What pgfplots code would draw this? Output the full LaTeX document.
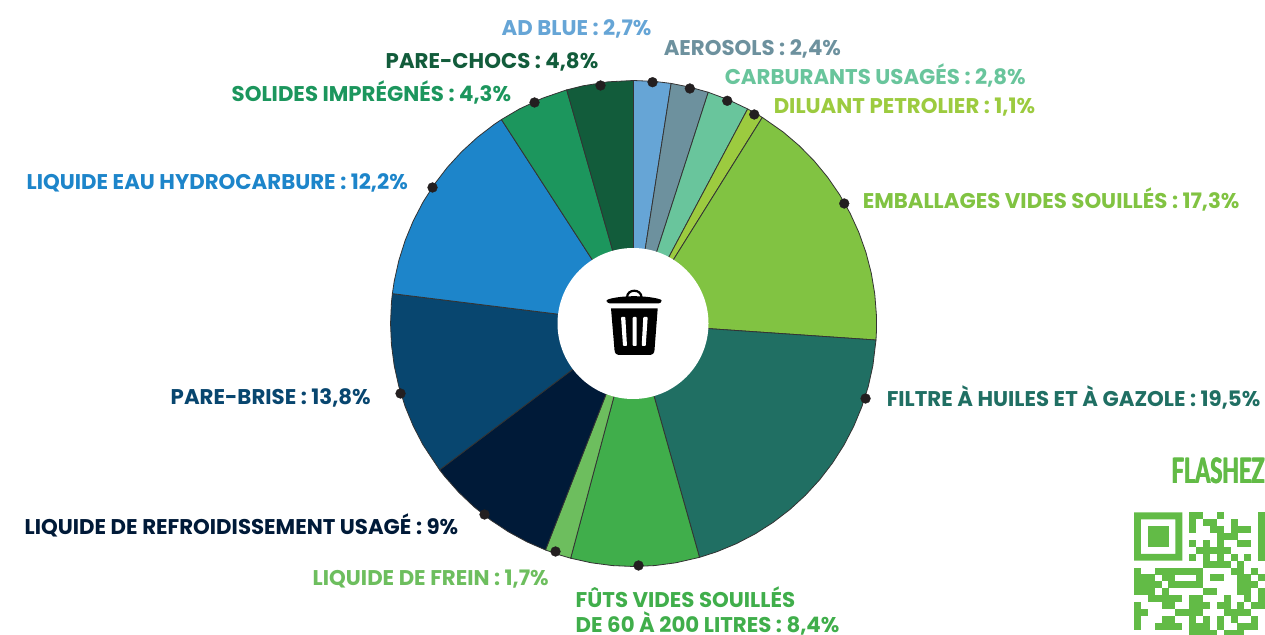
\documentclass[border=0pt]{standalone}
\usepackage{pgfplots}
\pgfplotsset{compat=1.18}
\usepackage{fontspec}
\setmainfont{Poppins}[BoldFont=* Bold]
\newfontfamily\flash{Lato}[BoldFont=* Bold]
\definecolor{cadblue}{HTML}{66A5D6}
\definecolor{caero}{HTML}{6D919E}
\definecolor{ccarb}{HTML}{69C59C}
\definecolor{cdil}{HTML}{9CCB3F}
\definecolor{cemb}{HTML}{81C342}
\definecolor{cfil}{HTML}{206F63}
\definecolor{cfut}{HTML}{40AE4B}
\definecolor{cfre}{HTML}{6DBE5E}
\definecolor{cref}{HTML}{001A38}
\definecolor{cpar}{HTML}{08466F}
\definecolor{ceau}{HTML}{1D85CA}
\definecolor{csol}{HTML}{1C965D}
\definecolor{ccho}{HTML}{125C3B}
\definecolor{cqr}{HTML}{62BB46}
\definecolor{cdot}{HTML}{231F20}
\newcommand{\lab}[4]{\node[anchor=base west,inner sep=0pt,xshift=-1pt,yshift=-0.7pt,text=#3,font=\fontsize{21.3}{25}\selectfont\bfseries] at (axis cs:#1,#2) {#4};}
\begin{document}
\begin{tikzpicture}[x=1pt,y=1pt]
\path[use as bounding box,clip] (0,0) rectangle (1265,634);
\begin{axis}[
  at={(0,0)},anchor=south west,
  scale only axis,width=1265pt,height=634pt,
  xmin=-633.5,xmax=631.5,ymin=-310.5,ymax=323.5,
  hide axis,clip=false,
  wedge/.style={data cs=polar,draw=black!80,line width=0.8pt,line join=round},
]
\addplot[wedge,fill=cadblue] coordinates {(0,0)(90,243)(85,243)(81.1,243)} --cycle;
\addplot[wedge,fill=caero] coordinates {(0,0)(81.1,243)(76.6,243)(72.1,243)} --cycle;
\addplot[wedge,fill=ccarb] coordinates {(0,0)(72.1,243)(67,243)(62,243)} --cycle;
\addplot[wedge,fill=cdil] coordinates {(0,0)(62,243)(60,243)(58,243)} --cycle;
\addplot[wedge,fill=cemb] coordinates {(0,0)(58,243)(52,243)(47,243)(42,243)(37,243)(32,243)(27,243)(22,243)(17,243)(12,243)(7,243)(2,243)(-2,243)(-3.9,243)} --cycle;
\addplot[wedge,fill=cfil] coordinates {(0,0)(-3.9,243)(-10,243)(-15,243)(-20,243)(-25,243)(-30,243)(-35,243)(-40,243)(-45,243)(-50,243)(-55,243)(-60,243)(-65,243)(-70,243)(-74.25,243)} --cycle;
\addplot[wedge,fill=cfut] coordinates {(0,0)(-74.25,243)(-80,243)(-85,243)(-90,243)(-95,243)(-100,243)(-105,243)} --cycle;
\addplot[wedge,fill=cfre] coordinates {(0,0)(-105,243)(-108,243)(-111.25,243)} --cycle;
\addplot[wedge,fill=cref] coordinates {(0,0)(-111.25,243)(-116,243)(-121,243)(-126,243)(-131,243)(-136,243)(-141,243)(-142.96,243)} --cycle;
\addplot[wedge,fill=cpar] coordinates {(0,0)(-142.96,243)(-150,243)(-155,243)(-160,243)(-165,243)(-170,243)(-175,243)(-180,243)(-185,243)(-187.06,243)} --cycle;
\addplot[wedge,fill=ceau] coordinates {(0,0)(-187.06,243)(-190,243)(-195,243)(-200,243)(-205,243)(-210,243)(-215,243)(-220,243)(-225,243)(-230,243)(-235,243)(-237.07,243)} --cycle;
\addplot[wedge,fill=csol] coordinates {(0,0)(-237.07,243)(-242,243)(-248,243)(-254.04,243)} --cycle;
\addplot[wedge,fill=ccho] coordinates {(0,0)(-254.04,243)(-258,243)(-264,243)(-270,243)} --cycle;
\addplot[only marks,mark=*,mark size=4.9pt,mark options={fill=cdot,draw=cdot}] coordinates {
(19,241.3)(56.3,235)(93.7,222.7)(120.7,209)(210.7,120)(232,-75)(5,-242)(-78,-228)(-149,-191)(-233,-70)(-201,136)(-99,221)(-33,238)};
\lab{-131}{289}{cadblue}{AD BLUE : 2,7\%}
\lab{31}{269}{caero}{AEROSOLS : 2,4\%}
\lab{92}{240}{ccarb}{CARBURANTS USAGÉS : 2,8\%}
\lab{141}{211}{cdil}{DILUANT PETROLIER : 1,1\%}
\lab{230}{116}{cemb}{EMBALLAGES VIDES SOUILLÉS : 17,3\%}
\lab{254}{-82}{cfil}{FILTRE À HUILES ET À GAZOLE : 19,5\%}
\lab{-57}{-283.5}{cfut}{FÛTS VIDES SOUILLÉS}
\lab{-57}{-308.5}{cfut}{DE 60 À 200 LITRES : 8,4\%}
\lab{-320}{-261}{cfre}{LIQUIDE DE FREIN : 1,7\%}
\lab{-608}{-210}{cref}{LIQUIDE DE REFROIDISSEMENT USAGÉ : 9\%}
\lab{-462}{-80}{cpar}{PARE-BRISE : 13,8\%}
\lab{-606}{135}{ceau}{LIQUIDE EAU HYDROCARBURE : 12,2\%}
\lab{-401}{223}{csol}{SOLIDES IMPRÉGNÉS : 4,3\%}
\lab{-247}{256}{ccho}{PARE-CHOCS : 4,8\%}
\end{axis}
\begin{scope}[x=1pt,y=-1pt,yshift=634pt]
\fill[white] (633,323.5) circle[radius=75.5];
% trash icon
\fill[black,rounded corners=3pt] (606.7,303.4) -- (661.7,303.4) .. controls (661.5,299) and (650,296.5) .. (634,296.2) .. controls (618,296.5) and (606.9,299) .. (606.7,303.4) -- cycle;
\draw[black,line width=2.2pt] (627,297.5) .. controls (627,288.5) and (641.5,288.5) .. (641.5,297.5);
\fill[black] (611,308.3) -- (657.7,308.3) -- (654.5,350) .. controls (654.3,353.5) and (652.5,355) .. (649,355) -- (620,355) .. controls (616.5,355) and (614.7,353.5) .. (614.5,350) -- cycle;
\fill[white,rounded corners=0.8pt] (621,317) -- (625.3,317) -- (627,346) -- (623,346) -- cycle;
\fill[white,rounded corners=0.8pt] (632.7,317) -- (636.7,317) -- (636.7,346) -- (632.7,346) -- cycle;
\fill[white,rounded corners=0.8pt] (643.3,317) -- (647.7,317) -- (645.7,346) -- (641.7,346) -- cycle;
% flash text (heavy condensed look: bold face set narrow, overstruck)
\foreach \dx in {0,0.6,1.2}{
\node[anchor=base west,inner sep=0pt,text=cqr] at (1171+\dx,484) {\scalebox{0.62}[1]{\fontsize{35}{40}\selectfont\flash\bfseries FLASHEZ}};
}
% QR code
\def\mm{6.9}\def\qx{1134}\def\qy{512.4}
\fill[cqr,even odd rule] (\qx,\qy) rectangle ++(7*\mm,7*\mm) (\qx+\mm,\qy+\mm) rectangle ++(5*\mm,5*\mm);
\fill[cqr] (\qx+2*\mm,\qy+2*\mm) rectangle ++(3*\mm,3*\mm);
\fill[cqr] (\qx+18*\mm,\qy) rectangle (1265,\qy+7*\mm);
\foreach \r/\cs in {0/{8,9,12},1/{8,10,11,14},2/{8,11,12,14,15,16},3/{12,13,14},4/{8,10,12,15,16},5/{9,10,11,12,13},6/{8,10,12,14,16},7/{10,11,12,13,15},8/{0,3,4,5,6,7,8,9,14,15,17},9/{0,1,2,4,5,9,11,12,15,16,18},10/{0,1,2,3,5,6,7,8,9,15,16,17},11/{0,1,2,4,10,11,15,16,18},12/{2,3,4,5,6,8,9,13,16,18},13/{0,4,5,8,9,10,12,13,15,17,18},14/{0,1,6,7,8,9,13,14,15,16},15/{0,4,5,8,10,12,14,17},16/{0,3,4,5,6,8,9,10,12,15,16,17},17/{8,9,10,11,13,14,15}}{
  \foreach \c in \cs {\fill[cqr] (\qx+\c*\mm-0.05,\qy+\r*\mm-0.05) rectangle ++(\mm+0.1,\mm+0.1);}
}
\end{scope}
\end{tikzpicture}
\end{document}
